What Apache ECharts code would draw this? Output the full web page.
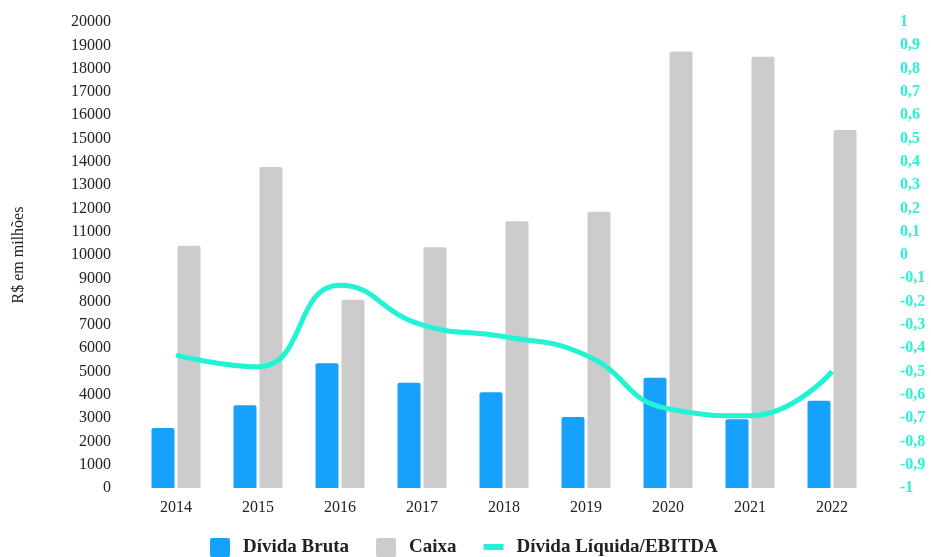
<!DOCTYPE html>
<html>
<head>
<meta charset="utf-8">
<script src="https://cdn.jsdelivr.net/npm/echarts@6/dist/echarts.min.js"></script>
<style>html,body{margin:0;padding:0;background:#fff}#c{width:931px;height:557px}</style>
</head>
<body>
<div id="c"></div>
<script>
const years = ['2014','2015','2016','2017','2018','2019','2020','2021','2022'];
const dividaBruta = [2580, 3550, 5350, 4520, 4110, 3050, 4730, 2950, 3750];
const caixa = [10400, 13780, 8080, 10330, 11450, 11860, 18730, 18510, 15370];
const dividaLiqEbitda = [-0.43, -0.48, -0.13, -0.30, -0.35, -0.43, -0.66, -0.69, -0.50];

const serif = '"Liberation Serif", "DejaVu Serif", serif';
const lineColor = '#22f3d4';
const sqIcon = 'path://M2,0 L18,0 Q20,0 20,2 L20,17 Q20,19 18,19 L2,19 Q0,19 0,17 L0,2 Q0,0 2,0 Z';
const chart = echarts.init(document.getElementById('c'), null, {renderer: 'canvas'});
chart.setOption({
  animation: false,
  backgroundColor: '#ffffff',
  grid: {left: 135, right: 58, top: 22, bottom: 69},
  legend: {
    left: 205, top: 533,
    itemGap: 27, itemWidth: 20, itemHeight: 19,
    textStyle: {fontFamily: serif, fontSize: 19, fontWeight: 'bold', color: '#222', padding: [0, 0, 0, 8]},
    data: [
      {name: 'Dívida Bruta', icon: sqIcon},
      {name: 'Caixa', icon: sqIcon},
      {name: 'Dívida Líquida/EBITDA', icon: 'path://M0,0 M0,6 L20,6 L20,12 L0,12 Z M20,19', itemStyle: {color: lineColor}}
    ]
  },
  xAxis: {
    type: 'category', data: years,
    axisLine: {show: false}, axisTick: {show: false},
    axisLabel: {fontFamily: serif, fontSize: 16, color: '#222', margin: 12}
  },
  yAxis: [
    {
      type: 'value', min: 0, max: 20000, interval: 1000,
      name: 'R$ em milhões', nameLocation: 'middle', nameGap: 108, nameRotate: 90,
      nameTextStyle: {fontFamily: serif, fontSize: 16, color: '#222'},
      axisLine: {show: false}, axisTick: {show: false}, splitLine: {show: false},
      axisLabel: {fontFamily: serif, fontSize: 16, color: '#222', margin: 24, formatter: v => String(v)}
    },
    {
      type: 'value', min: -1, max: 1, interval: 0.1, position: 'right',
      axisLine: {show: false}, axisTick: {show: false}, splitLine: {show: false},
      axisLabel: {
        fontFamily: serif, fontSize: 16, fontWeight: 'bold', color: '#2ef0d2', margin: 27, align: 'left',
        formatter: v => (Math.round(v * 10) / 10).toString().replace('.', ',')
      }
    }
  ],
  series: [
    {
      name: 'Dívida Bruta', type: 'bar', data: dividaBruta, barWidth: 23, barGap: '13%',
      itemStyle: {color: '#16a1fb', borderRadius: [2, 2, 0, 0]}
    },
    {
      name: 'Caixa', type: 'bar', data: caixa, barWidth: 23,
      itemStyle: {color: '#cccccc', borderRadius: [2, 2, 0, 0]}
    },
    {
      name: 'Dívida Líquida/EBITDA', type: 'line', yAxisIndex: 1, data: dividaLiqEbitda,
      smooth: 0.5, symbol: 'none',
      lineStyle: {color: lineColor, width: 5},
      itemStyle: {color: lineColor}
    }
  ]
});
</script>
</body>
</html>
